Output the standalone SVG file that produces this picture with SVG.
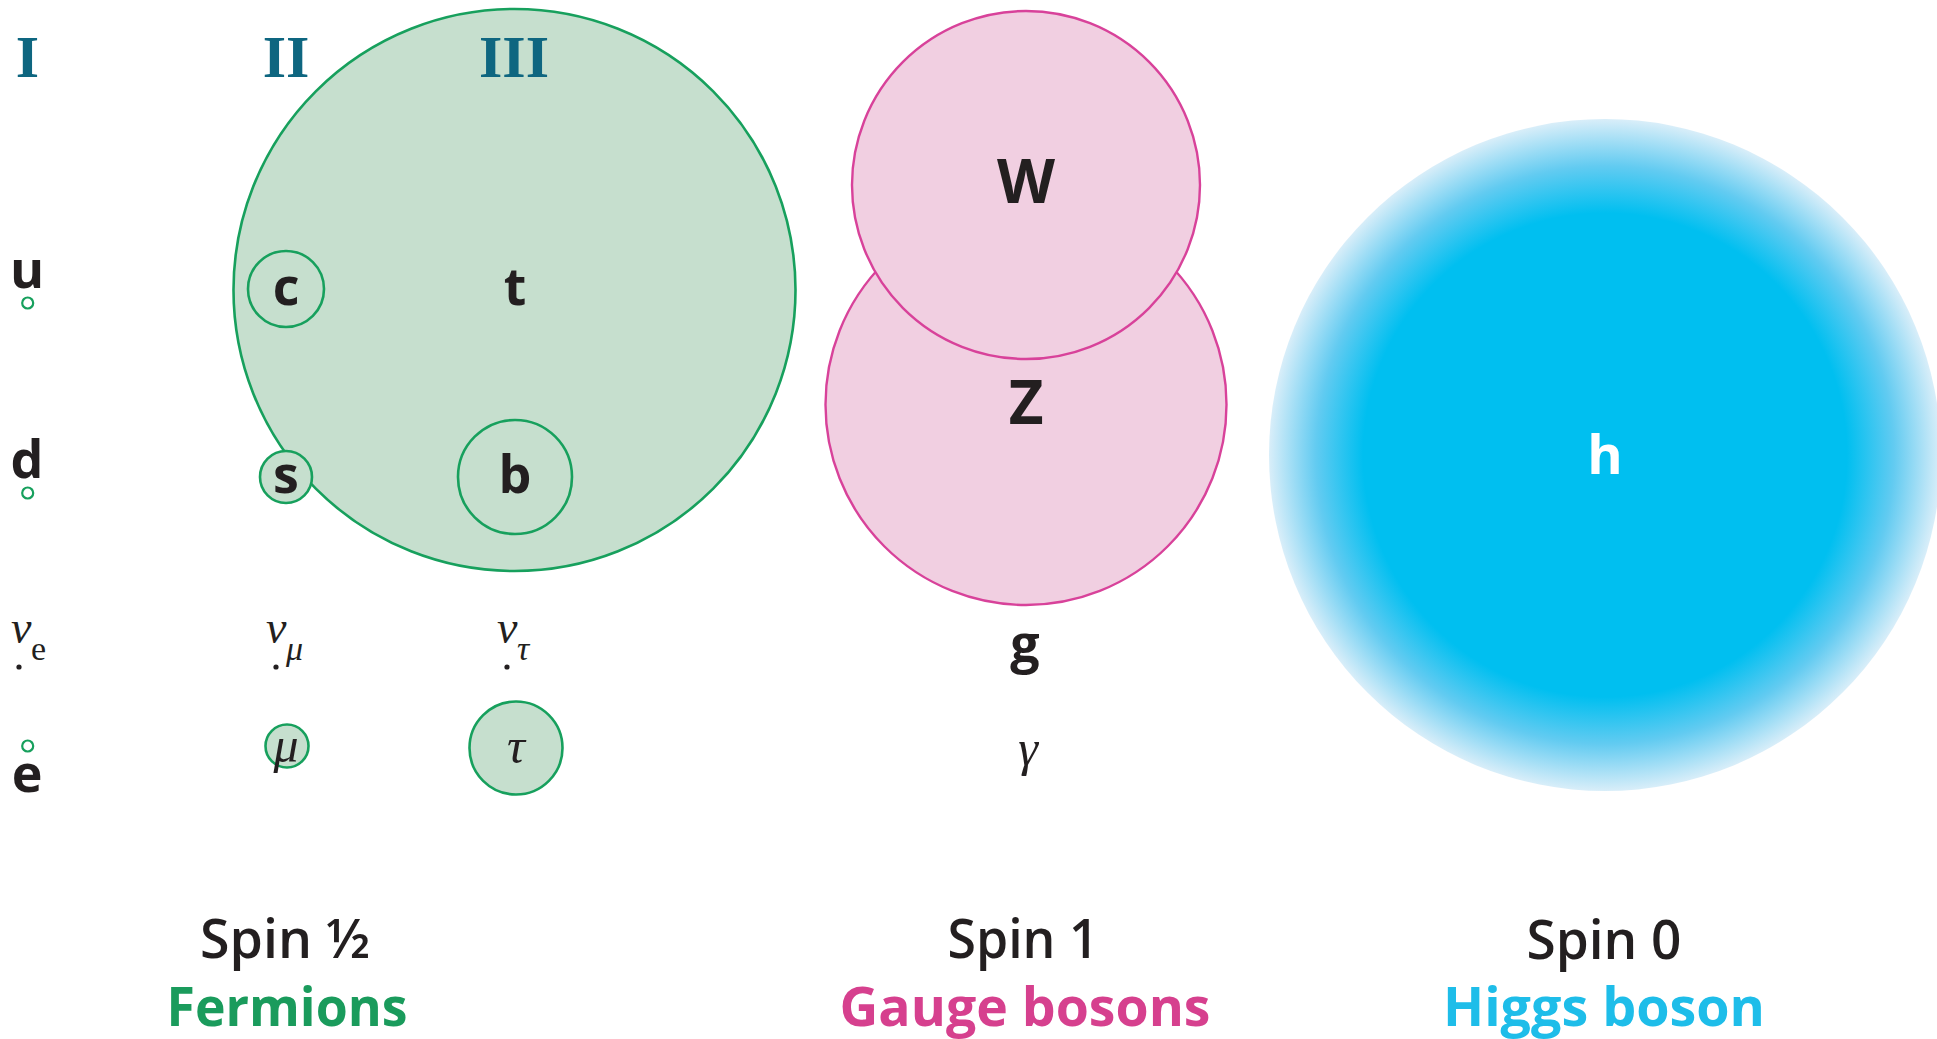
<svg xmlns="http://www.w3.org/2000/svg" width="1937" height="1039" viewBox="0 0 1937 1039">
  <style>
    .gen { font-family: "Liberation Serif", serif; font-weight: bold; font-size: 60px; fill: #0e6680; text-anchor: middle; }
    .p { font-family: "Open Sans", "Liberation Sans", sans-serif; font-weight: 700; font-size: 52px; fill: #231f20; text-anchor: middle; }
    .pb { font-family: "Open Sans", "Liberation Sans", sans-serif; font-weight: 700; font-size: 60px; fill: #231f20; text-anchor: middle; }
    .gr { font-family: "Liberation Serif", serif; font-style: italic; font-size: 50px; fill: #231f20; }
    .nu { font-family: "Liberation Serif", serif; font-style: italic; font-size: 46px; fill: #231f20; }
    .sub { font-family: "Liberation Serif", serif; font-size: 34px; fill: #231f20; }
    .subi { font-family: "Liberation Serif", serif; font-style: italic; font-size: 34px; fill: #231f20; }
    .fer { fill: #c6dfce; stroke: #17a05d; stroke-width: 2.6; }
    .tiny { fill: #ffffff; stroke: #17a05d; stroke-width: 2.2; }
    .gauge { fill: #f1cfe1; stroke: #d8429a; stroke-width: 2.4; }
    .dot { fill: #231f20; }
    .spin { font-family: "Open Sans", "Liberation Sans", sans-serif; font-weight: 600; font-size: 55px; fill: #231f20; text-anchor: middle; }
    .cat { font-family: "Open Sans", "Liberation Sans", sans-serif; font-weight: 700; font-size: 54px; text-anchor: middle; }
  </style>
  <defs>
    <radialGradient id="higgsGrad" cx="0.5" cy="0.5" r="0.5">
      <stop offset="0" stop-color="#00bff0"/>
      <stop offset="0.72" stop-color="#00bff0"/>
      <stop offset="0.86" stop-color="#62cbf1"/>
      <stop offset="1" stop-color="#d9eef9"/>
    </radialGradient>
  </defs>
  <rect width="1937" height="1039" fill="#ffffff"/>

  <g id="top-quark">
    <circle class="fer" cx="514.5" cy="290" r="281"/>
    <text class="p" x="515" y="305">t</text>
  </g>
  <g id="charm">
    <circle class="fer" cx="286" cy="289" r="38"/>
    <text class="p" x="286" y="305">c</text>
  </g>
  <g id="strange">
    <circle class="fer" cx="286" cy="477" r="26"/>
    <text class="p" x="286" y="493">s</text>
  </g>
  <g id="bottom">
    <circle class="fer" cx="515" cy="477" r="57"/>
    <text class="p" x="515" y="493">b</text>
  </g>
  <g id="up">
    <circle class="tiny" cx="27.7" cy="303" r="5.5"/>
    <text class="p" x="27" y="288">u</text>
  </g>
  <g id="down">
    <circle class="tiny" cx="27.7" cy="493" r="5.5"/>
    <text class="p" x="27" y="478">d</text>
  </g>
  <g id="electron">
    <circle class="tiny" cx="27.7" cy="746" r="5.5"/>
    <text class="p" x="27" y="792">e</text>
  </g>
  <g id="muon">
    <circle class="fer" cx="287" cy="746" r="21.5"/>
    <text class="gr" x="286" y="762" text-anchor="middle">μ</text>
  </g>
  <g id="tau">
    <circle class="fer" cx="516" cy="748" r="46.5"/>
    <text class="gr" x="516" y="763" text-anchor="middle">τ</text>
  </g>
  <g id="nu-e">
    <circle class="dot" cx="19" cy="667" r="2.6"/>
    <text class="nu" x="11" y="643">ν</text>
    <text class="sub" x="31" y="660">e</text>
  </g>
  <g id="nu-mu">
    <circle class="dot" cx="276" cy="667" r="2.6"/>
    <text class="nu" x="266" y="643">ν</text>
    <text class="subi" x="286" y="660">μ</text>
  </g>
  <g id="nu-tau">
    <circle class="dot" cx="507" cy="667" r="2.6"/>
    <text class="nu" x="497" y="643">ν</text>
    <text class="subi" x="517" y="660">τ</text>
  </g>

  <g id="generations">
    <text class="gen" x="27.5" y="77">I</text>
    <text class="gen" x="286" y="77">II</text>
    <text class="gen" x="514" y="77">III</text>
  </g>

  <g id="z-boson">
    <circle class="gauge" cx="1026" cy="404.5" r="200.5"/>
    <text class="pb" x="1026" y="424">Z</text>
  </g>
  <g id="w-boson">
    <circle class="gauge" cx="1026" cy="185" r="174"/>
    <text class="pb" x="1026" y="203">W</text>
  </g>
  <g id="gluon">
    <text class="p" x="1025" y="662">g</text>
  </g>
  <g id="photon">
    <text class="gr" x="1028" y="765" text-anchor="middle">γ</text>
  </g>

  <g id="higgs">
    <circle cx="1605" cy="455" r="336" fill="url(#higgsGrad)"/>
    <text class="p" x="1605" y="474" style="fill:#ffffff;font-size:54px">h</text>
  </g>

  <g id="connectors"/>

  <g id="legend-fermions">
    <text class="spin" x="285" y="958" textLength="170" lengthAdjust="spacingAndGlyphs">Spin ½</text>
    <text class="cat" x="287" y="1026" fill="#1a9b5c" textLength="241" lengthAdjust="spacingAndGlyphs">Fermions</text>
  </g>
  <g id="legend-gauge">
    <text class="spin" x="1023" y="958" textLength="151" lengthAdjust="spacingAndGlyphs">Spin 1</text>
    <text class="cat" x="1025" y="1026" fill="#d6408e" textLength="371" lengthAdjust="spacingAndGlyphs">Gauge bosons</text>
  </g>
  <g id="legend-higgs">
    <text class="spin" x="1604" y="959" textLength="155" lengthAdjust="spacingAndGlyphs">Spin 0</text>
    <text class="cat" x="1604" y="1026" fill="#1ebde9" textLength="322" lengthAdjust="spacingAndGlyphs">Higgs boson</text>
  </g>
</svg>
